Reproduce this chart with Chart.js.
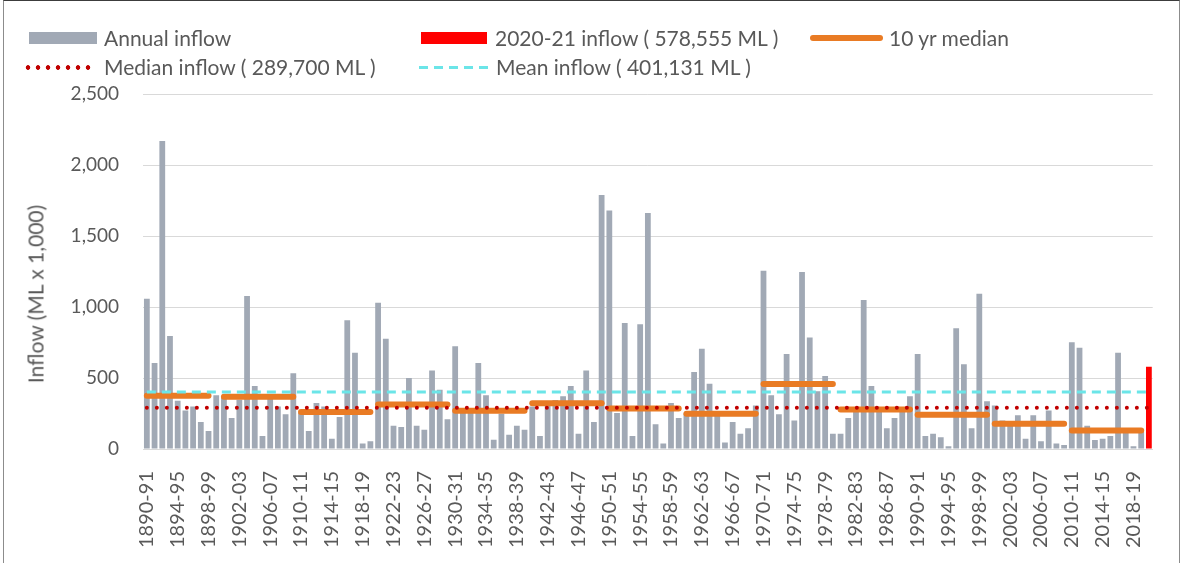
<!DOCTYPE html>
<html>
<head>
<meta charset="utf-8">
<script src="https://cdn.jsdelivr.net/npm/chart.js@4.4.1/dist/chart.umd.min.js"></script>
<style>
  html, body { margin: 0; padding: 0; background: #fff; }
  body { width: 1187px; height: 563px; position: relative; overflow: hidden; font-family: Lato, 'Open Sans', sans-serif; color: #595959; }
  #frame { position: absolute; left: 3px; top: 0; width: 1177px; height: 580px; border: 1px solid #8c8c8c; border-top-color: #3c3c3c; box-sizing: border-box; }
  #wrap { position: absolute; left: 0; top: 0; width: 1187px; height: 563px; }
  .lg { position: absolute; font-size: 21px; line-height: 24px; white-space: nowrap; }
  .sw { position: absolute; }
  #ytitle { position: absolute; left: 35px; top: 294px; transform: translate(-50%, -50%) rotate(-90deg); font-size: 21px; white-space: nowrap; }
</style>
</head>
<body>
<div id="frame"></div>
<div id="wrap"><canvas id="chart"></canvas></div>

<!-- legenda montada a mão, em duas linhas como no original -->
<div class="sw" style="left:29px;top:32px;width:68px;height:12px;background:#A1A9B5"></div>
<div class="lg" style="left:104px;top:26px">Annual inflow</div>
<div class="sw" style="left:421px;top:32px;width:66px;height:12px;background:#FF0000"></div>
<div class="lg" style="left:495px;top:26px">2020-21 inflow ( 578,555 ML )</div>
<div class="sw" style="left:810px;top:35px;width:73px;height:6px;border-radius:3px;background:#E97B24"></div>
<div class="lg" style="left:889px;top:26px">10 yr median</div>
<div class="sw" style="left:23px;top:65px;width:72px;height:5px;background:radial-gradient(circle, #C00000 2px, transparent 2.6px) repeat-x;background-size:10px 5px"></div>
<div class="lg" style="left:104px;top:55px">Median inflow ( 289,700 ML )</div>
<div class="sw" style="left:419px;top:66px;width:72px;height:3px;background:repeating-linear-gradient(90deg, #6BE5E8 0 9px, transparent 9px 15px)"></div>
<div class="lg" style="left:496px;top:55px">Mean inflow ( 401,131 ML )</div>

<div id="ytitle">Inflow (ML x 1,000)</div>

<script>
// Afluência anual (ML x 1.000): 1890-91 .. 2019-20
const annualInflow = [
  1058, 605, 2169, 796, 340, 272, 300, 190, 127, 378,
  366, 218, 347, 1077, 444, 92, 354, 300, 244, 533,
  255, 127, 324, 300, 73, 225, 906, 678, 38, 54,
  1030, 777, 164, 155, 500, 164, 136, 552, 418, 209,
  723, 270, 280, 605, 378, 66, 249, 101, 164, 136,
  300, 92, 330, 345, 371, 444, 108, 552, 190, 1788,
  1680, 253, 887, 92, 878, 1662, 174, 38, 324, 218,
  250, 542, 706, 460, 249, 45, 190, 108, 146, 307,
  1256, 378, 244, 669, 200, 1246, 786, 406, 514, 108,
  108, 218, 272, 1049, 444, 275, 146, 218, 272, 371,
  669, 92, 108, 82, 19, 850, 596, 146, 1094, 336,
  307, 200, 190, 237, 73, 237, 54, 272, 38, 28,
  751, 713, 164, 63, 73, 92, 678, 140, 19, 120
];
const currentYear = '2020-21';
const currentInflow = 578.555;
const medianInflow = 289.7;
const meanInflow = 401.131;

// mediana de 10 anos, por trecho
const decadeFrom = ['1890-91','1900-01','1910-11','1920-21','1930-31','1940-41','1950-51','1960-61','1970-71','1980-81','1990-91','2000-01','2010-11'];
const decadeTo = ['1898-99','1909-10','1919-20','1929-30','1939-40','1949-50','1959-60','1969-70','1979-80','1989-90','1999-00','2009-10','2019-20'];
const decadeMedian = [375, 368, 260, 314, 270, 322, 286, 249, 458, 279, 242, 178, 131];

const tickLabels = ['1890-91','1894-95','1898-99','1902-03','1906-07','1910-11','1914-15','1918-19','1922-23','1926-27','1930-31','1934-35','1938-39','1942-43','1946-47','1950-51','1954-55','1958-59','1962-63','1966-67','1970-71','1974-75','1978-79','1982-83','1986-87','1990-91','1994-95','1998-99','2002-03','2006-07','2010-11','2014-15','2018-19'];
const yTicks = [0, 500, 1000, 1500, 2000, 2500];

const labels = [];
for (let y = 1890; y <= 2020; y++) labels.push(y + '-' + String((y + 1) % 100).padStart(2, '0'));

const GREY = '#A1A9B5';
const ORANGE = '#E97B24';
const TXT = '#595959';

const datasets = [];
datasets.push({
  type: 'bar', label: 'Annual inflow',
  data: labels.map((l, i) => i < annualInflow.length ? annualInflow[i] : null),
  backgroundColor: GREY, grouped: false, barPercentage: 0.75, categoryPercentage: 1, order: 5
});
datasets.push({
  type: 'bar', label: '2020-21 inflow',
  data: labels.map(l => l === currentYear ? currentInflow : null),
  backgroundColor: '#FF0000', grouped: false, barPercentage: 0.75, categoryPercentage: 1, order: 5
});
decadeMedian.forEach((v, k) => {
  const a = labels.indexOf(decadeFrom[k]), b = labels.indexOf(decadeTo[k]);
  datasets.push({
    type: 'line', label: '10 yr median',
    data: labels.map((l, i) => (i >= a && i <= b) ? v : null),
    borderColor: ORANGE, borderWidth: 6, borderCapStyle: 'round',
    pointRadius: 0, spanGaps: false, order: 3
  });
});
datasets.push({
  type: 'line', label: 'Mean inflow',
  data: labels.map(() => meanInflow),
  borderColor: '#6BE5E8', borderWidth: 3, borderDash: [9, 6], pointRadius: 0, order: 2
});
datasets.push({
  type: 'line', label: 'Median inflow',
  data: labels.map(() => medianInflow),
  borderColor: '#C00000', borderWidth: 4, borderDash: [0, 10], borderCapStyle: 'round', pointRadius: 0, order: 1
});

new Chart(document.getElementById('chart'), {
  data: { labels, datasets },
  options: {
    responsive: true, maintainAspectRatio: false, animation: false,
    layout: { padding: { left: 0, right: 30, top: 94, bottom: 0 } },
    plugins: { legend: { display: false }, tooltip: { enabled: false } },
    scales: {
      x: {
        grid: { display: false },
        border: { color: '#D9D9D9', width: 1 },
        afterFit: s => { s.height = 114; },
        ticks: {
          autoSkip: false, maxRotation: 90, minRotation: 90, padding: 14,
          color: TXT, font: { family: 'Lato', size: 20 },
          callback: function (v) { const l = this.getLabelForValue(v); return tickLabels.includes(l) ? l : ''; }
        }
      },
      y: {
        min: 0, max: 2500,
        afterFit: s => { s.width = 143; },
        afterBuildTicks: s => { s.ticks = yTicks.map(v => ({ value: v })); },
        grid: { color: '#D9D9D9', lineWidth: 1, drawTicks: false },
        border: { display: false },
        ticks: {
          padding: 24, color: TXT, font: { family: 'Lato', size: 19 },
          callback: v => v.toLocaleString('en-US')
        }
      }
    }
  }
});
</script>
</body>
</html>
